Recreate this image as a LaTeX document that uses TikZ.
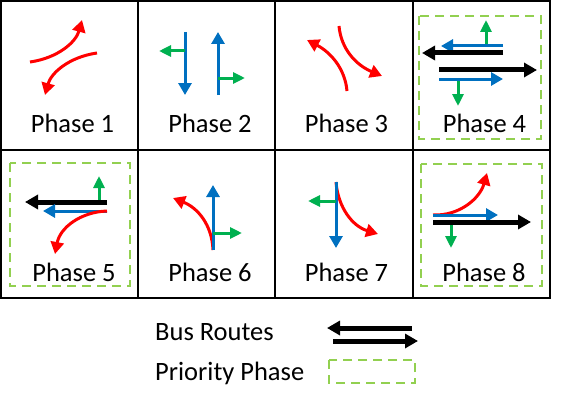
\documentclass[tikz,border=0pt]{standalone}
\usepackage{fontspec}
\setmainfont{Carlito}
\usetikzlibrary{arrows.meta}

\definecolor{turnred}{HTML}{FF0000}
\definecolor{laneblue}{HTML}{0070C0}
\definecolor{sidegreen}{HTML}{00B050}
\definecolor{priogreen}{HTML}{92D050}

\tikzset{
  phase/.style={font=\fontsize{26.5}{30}\selectfont, inner sep=0pt, anchor=base},
  legend/.style={phase, anchor=base west},
  bus/.style={draw=black, line width=5pt, -{Triangle[length=13pt,width=14pt]}},
  through/.style={draw=laneblue, line width=3pt, -{Triangle[length=12pt,width=13pt]}},
  side/.style={draw=sidegreen, line width=3pt, -{Triangle[length=12pt,width=11pt]}},
  turn/.style={draw=turnred, line width=3pt, -{Triangle[length=12pt,width=13pt]}},
  priobox/.style={draw=priogreen, line width=1.5pt, dash pattern=on 9pt off 6pt}
}

\begin{document}
\begin{tikzpicture}[x=1pt, y=-1pt]
  \useasboundingbox (0,0) rectangle (562,404);

  % grid of phases
  \draw[line width=2pt] (1,1) rectangle (550,298);
  \foreach \x in {138,275,413}
    \draw[line width=2pt] (\x,1) -- (\x,298);
  \draw[line width=2pt] (1,150) -- (550,150);

  % priority boxes
  \draw[priobox] (419,16) rectangle (541,139);
  \draw[priobox] (10,163) rectangle (130,286);
  \draw[priobox] (421,164) rectangle (542,286);

  % labels
  \node[phase] (ph1) at (72.5,132) {Phase 1};
  \node[phase] (ph2) at (210,132) {Phase 2};
  \node[phase] (ph3) at (346.5,132) {Phase 3};
  \node[phase] (ph4) at (484.5,132) {Phase 4};
  \node[phase] (ph5) at (74,281) {Phase 5};
  \node[phase] (ph6) at (210,281) {Phase 6};
  \node[phase] (ph7) at (346.5,281) {Phase 7};
  \node[phase] (ph8) at (484,281) {Phase 8};

  % phase 1
  \draw[turn] (30,62) .. controls (58,58) and (76,42) .. (82,20);
  \draw[turn] (97,53) .. controls (69,57) and (51,73) .. (45,95);

  % phase 2
  \draw[through] (185,32) -- (185,95);
  \draw[side] (185,51) -- (159,51);
  \draw[through] (218,95) -- (218,32);
  \draw[side] (218,78) -- (245,78);

  % phase 3
  \draw[turn] (347,91) .. controls (345,68) and (330,52) .. (307,40);
  \draw[turn] (339,26) .. controls (341,49) and (356,65) .. (382,76);

  % phase 4
  \draw[side] (486,46) -- (486,20);
  \draw[through] (503,46) -- (441,46);
  \draw[bus] (503,53) -- (422,53);
  \draw[bus] (439,70) -- (537,70);
  \draw[side] (458,79) -- (458,106);
  \draw[through] (439,79) -- (503,79);

  % phase 5
  \draw[side] (99,202) -- (99,176);
  \draw[bus] (107,202) -- (25,202);
  \draw[through] (107,211) -- (43,211);
  \draw[turn] (107,211) .. controls (80,212) and (60,228) .. (55,254);

  % phase 6
  \draw[turn] (213,250) .. controls (212,225) and (198,208) .. (173,198);
  \draw[through] (213,250) -- (213,185);
  \draw[side] (213,233) -- (242,233);

  % phase 7
  \draw[turn] (336,182) .. controls (338,207) and (352,226) .. (378,234);
  \draw[through] (336,182) -- (336,248);
  \draw[side] (336,201) -- (308,201);

  % phase 8
  \draw[turn] (433,215) .. controls (460,216) and (480,198) .. (487,173);
  \draw[through] (433,215) -- (498,215);
  \draw[side] (451,222) -- (451,248);
  \draw[bus] (433,222) -- (531,222);

  % legend
  \node[legend] (busroutes) at (155,340) {Bus Routes};
  \node[legend] (priority) at (155,380) {Priority Phase};
  \draw[bus] (412,328) -- (327,328);
  \draw[bus] (333,341) -- (418,341);
  \draw[priobox] (329,360) rectangle (415,383);
\end{tikzpicture}
\end{document}
